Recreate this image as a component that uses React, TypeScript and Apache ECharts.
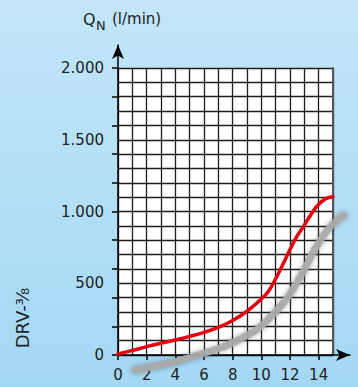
import React, { useEffect, useRef } from "react";
import * as echarts from "echarts";

const xTickValues = [0, 2, 4, 6, 8, 10, 12, 14];
const yTickValues = [0, 200, 400, 600, 800, 1000, 1200, 1400, 1600, 1800, 2000];
const yLabelValues = [0, 500, 1000, 1500, 2000];

const redCurve: [number, number][] = [
  [0, 7], [1, 32], [2, 58], [3, 82], [4, 105], [5, 130], [6, 158], [7, 192],
  [8, 240], [9, 305], [10, 390], [10.5, 445], [11, 530], [11.5, 630], [12, 735],
  [12.5, 830], [13, 905], [13.5, 985], [14, 1050], [14.5, 1090], [15, 1103],
];

const greyCurve: [number, number][] = [
  [1.2, -105], [2, -90], [3, -70], [4, -48], [5, -20], [6, 10], [7, 40], [8, 80],
  [9, 130], [10, 190], [11, 285], [12, 400], [13, 560], [14, 745], [15, 890], [16, 975],
];

const FONT = "DejaVu Sans";

function fmt(v: number): string {
  if (v >= 1000) {
    const t = Math.floor(v / 1000);
    const r = String(v % 1000).padStart(3, "0");
    return `${t}.${r}`;
  }
  return String(v);
}

export default function App() {
  const ref = useRef<HTMLDivElement>(null);
  useEffect(() => {
    if (!ref.current) return;
    const chart = echarts.init(ref.current, undefined, { renderer: "svg" });
    const gridLine = { color: "#1c1c1c", width: 1.3 };
    const off = { show: false };
    // pixel scale of the main grid: 215px / 15 units, 287px / 2000 units
    const pxX = 215 / 15;
    const pxY = 287 / 2000;
    chart.setOption({
      animation: false,
      grid: [
        { left: 118, top: 68, width: 215, height: 287, show: true, backgroundColor: "#ffffff", borderWidth: 0 },
        { left: 118, top: 45, width: 232, height: 310, show: false },
        { left: 118, top: 68, width: 17 * pxX, height: 2200 * pxY, show: false },
      ],
      xAxis: [
        {
          type: "value", gridIndex: 0, min: 0, max: 15, interval: 1, position: "bottom",
          splitLine: { show: true, lineStyle: gridLine },
          axisLine: off, axisTick: off, axisLabel: off,
        },
        {
          type: "value", gridIndex: 0, min: 0, max: 15, position: "bottom",
          splitLine: off, axisLine: off,
          axisTick: { show: true, customValues: xTickValues, length: 5, lineStyle: { color: "#000", width: 1.5 } },
          axisLabel: { show: true, customValues: xTickValues, margin: 12, fontSize: 15, color: "#222", fontFamily: FONT },
        },
        {
          type: "value", gridIndex: 1, min: 0, max: 1,
          splitLine: off, axisTick: off, axisLabel: off,
          axisLine: { show: true, symbol: ["none", "arrow"], symbolSize: [9, 14], lineStyle: { color: "#000", width: 1.5 } },
        },
        {
          type: "value", gridIndex: 2, min: 0, max: 17,
          splitLine: off, axisTick: off, axisLabel: off, axisLine: off,
        },
      ],
      yAxis: [
        {
          type: "value", gridIndex: 0, min: 0, max: 2000, interval: 100, position: "left",
          splitLine: { show: true, lineStyle: gridLine },
          axisLine: off, axisTick: off, axisLabel: off,
        },
        {
          type: "value", gridIndex: 0, min: 0, max: 2000, position: "left",
          splitLine: off, axisLine: off,
          axisTick: { show: true, customValues: yTickValues, length: 6, lineStyle: { color: "#000", width: 1.5 } },
          axisLabel: {
            show: true, customValues: yLabelValues, margin: 14, fontSize: 15, color: "#222", fontFamily: FONT,
            formatter: (v: number) => fmt(v),
          },
        },
        {
          type: "value", gridIndex: 0, min: 0, max: 2000, position: "right",
          splitLine: off, axisTick: off, axisLabel: off,
          axisLine: { show: true, lineStyle: { color: "#555", width: 2 } },
        },
        {
          type: "value", gridIndex: 1, min: 0, max: 1,
          splitLine: off, axisTick: off, axisLabel: off,
          axisLine: { show: true, symbol: ["none", "arrow"], symbolSize: [9, 14], lineStyle: { color: "#000", width: 1.5 } },
        },
        {
          type: "value", gridIndex: 2, min: -200, max: 2000,
          splitLine: off, axisTick: off, axisLabel: off, axisLine: off,
        },
      ],
      graphic: [
        { type: "text", left: 83, top: 11, style: { text: "Q", fontSize: 16, fontFamily: FONT, fill: "#222" } },
        { type: "text", left: 96, top: 19, style: { text: "N", fontSize: 13, fontFamily: FONT, fill: "#222" } },
        { type: "text", left: 112, top: 11, style: { text: "(l/min)", fontSize: 15, fontFamily: FONT, fill: "#222" } },
        {
          type: "text", x: 22.5, y: 318, rotation: Math.PI / 2,
          style: { text: "DRV-⅜", fontSize: 18, fontFamily: FONT, fill: "#222", align: "center", verticalAlign: "middle" },
        },
      ],
      series: [
        {
          type: "line", xAxisIndex: 3, yAxisIndex: 4, data: greyCurve, smooth: 0.4, showSymbol: false,
          clip: false, z: 3,
          lineStyle: { color: "rgba(170,170,170,0.92)", width: 7, cap: "round", shadowBlur: 5, shadowColor: "rgba(60,60,60,0.5)" },
        },
        {
          type: "line", xAxisIndex: 0, yAxisIndex: 0, data: redCurve, smooth: 0.4, showSymbol: false,
          z: 4,
          lineStyle: { color: "#e3000f", width: 3.5, cap: "round" },
        },
      ],
    });
    return () => chart.dispose();
  }, []);
  return (
    <div
      style={{
        position: "fixed", left: 0, top: 0, width: 358, height: 387,
        background: "linear-gradient(180deg, #c3e6f9 0%, #a3d8f5 100%)",
      }}
    >
      <div ref={ref} style={{ width: 358, height: 387 }} />
    </div>
  );
}
